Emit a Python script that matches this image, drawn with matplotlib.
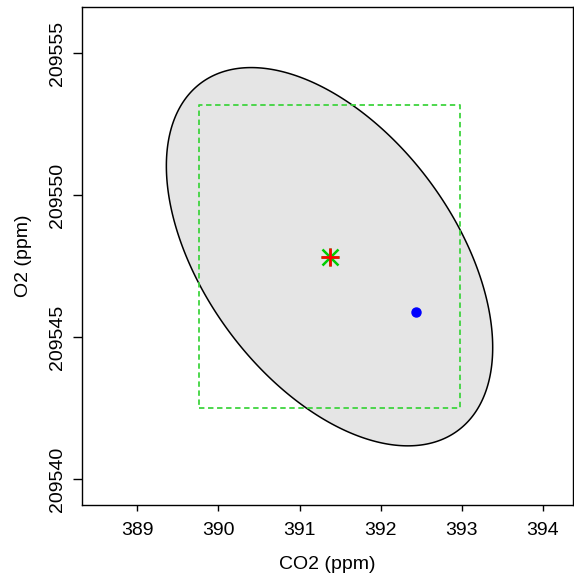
import matplotlib
matplotlib.use("Agg")
import matplotlib.pyplot as plt
import numpy as np

plt.rcParams["font.family"] = ["Liberation Sans", "DejaVu Sans"]

# estimate and its uncertainty
center = [391.37, 209547.84]
sd = [0.8214, 2.72]
rho = -0.48
obs_point = [392.44, 209545.9]

x_ticks = [389, 390, 391, 392, 393, 394]
y_ticks = [209540, 209545, 209550, 209555]

z_marg = 1.96      # 95% marginal intervals
k_joint = 2.4477   # sqrt(chi2_2(0.95))

fig = plt.figure(figsize=(5.74, 5.82), dpi=100)
ax = fig.add_axes([82/574, (582-505)/582, (573-82)/574, (505-7)/582])

# joint confidence ellipse
cov = np.array([[sd[0]**2, rho*sd[0]*sd[1]], [rho*sd[0]*sd[1], sd[1]**2]])
L = np.linalg.cholesky(cov)
t = np.linspace(0, 2*np.pi, 400)
pts = k_joint * (L @ np.vstack([np.cos(t), np.sin(t)]))
ex = center[0] + pts[0]
ey = center[1] + pts[1]
ax.fill(ex, ey, facecolor="#E5E5E5", edgecolor="black", linewidth=1.1, zorder=1)

# marginal interval box
x0, x1 = center[0] - z_marg*sd[0], center[0] + z_marg*sd[0]
y0, y1 = center[1] - z_marg*sd[1], center[1] + z_marg*sd[1]
ax.plot([x0, x1, x1, x0, x0], [y0, y0, y1, y1, y0], color="#3fd43f",
        linestyle=(0, (3, 2)), linewidth=1.3, zorder=2)

# estimate marker
ax.plot(center[0], center[1], marker="x", color="#00CD00", markersize=11, mew=1.8, zorder=3)
ax.plot(center[0], center[1], marker="+", color="#00CD00", markersize=13, mew=1.8, zorder=3)
ax.plot(center[0], center[1], marker="+", color="red", markersize=13, mew=1.9, zorder=4)

ax.plot(obs_point[0], obs_point[1], "o", color="blue", markersize=6.5, zorder=4)

ax.set_xlim(388.32, 394.37)
ax.set_ylim(209539.1, 209556.63)
ax.set_xticks(x_ticks)
ax.set_yticks(y_ticks)
ax.set_xticklabels([str(v) for v in x_ticks])
ax.set_yticklabels([str(v) for v in y_ticks], rotation=90, va="center")
ax.tick_params(axis="x", length=4.5, width=1, labelsize=14, pad=8)
ax.tick_params(axis="y", length=6.5, width=1, labelsize=14, pad=5)
for s in ax.spines.values():
    s.set_linewidth(1)

ax.set_xlabel("CO2 (ppm)", fontsize=14, labelpad=12)
ax.set_ylabel("O2 (ppm)", fontsize=14, labelpad=12)

fig.savefig("out.png", dpi=100)
